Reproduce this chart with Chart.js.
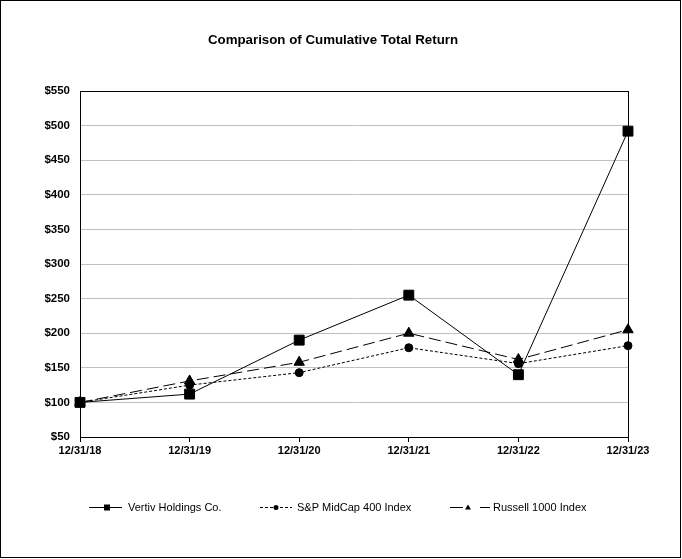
<!DOCTYPE html>
<html>
<head>
<meta charset="utf-8">
<script src="https://cdn.jsdelivr.net/npm/chart.js@4.4.0/dist/chart.umd.min.js"></script>
<style>
  html, body { margin: 0; padding: 0; background: #fff; }
  #wrap { width: 682px; height: 559px; }
</style>
</head>
<body>
<div id="wrap"><canvas id="grafico" width="682" height="559"></canvas></div>
<script>
// values
var years = ['12/31/18', '12/31/19', '12/31/20', '12/31/21', '12/31/22', '12/31/23'];
var vertiv = [100, 112, 190, 255, 140, 492];
var midcap = [100, 125, 143, 179, 156, 182];
var russell = [100, 131, 158, 200, 162, 205];
var seriesNames = ['Vertiv Holdings Co.', 'S&P MidCap 400 Index', 'Russell 1000 Index'];

var font = "'Liberation Sans', Arial, sans-serif";

// outer frame, plot border, title and the little legend at the bottom
var extras = {
  id: 'extras',
  afterDraw: function(chart) {
    var ctx = chart.ctx, a = chart.chartArea;
    ctx.save();
    ctx.strokeStyle = '#000';
    ctx.lineWidth = 1;
    ctx.setLineDash([]);
    ctx.strokeRect(0.5, 0.5, 680, 557);
    ctx.strokeRect(Math.round(a.left) + 0.5, Math.round(a.top) + 0.5,
      Math.round(a.right - a.left), Math.round(a.bottom - a.top));

    ctx.fillStyle = '#000';
    ctx.font = 'bold 13.3px ' + font;
    ctx.textAlign = 'center';
    ctx.textBaseline = 'middle';
    ctx.fillText('Comparison of Cumulative Total Return', 333, 40);

    var items = [
      { x0: 89, x1: 122, mx: 107, tx: 128, dash: [], style: 'rect' },
      { x0: 260, x1: 292, mx: 276, tx: 297, dash: [3, 2], style: 'circle' },
      { x0: 450, x1: 490, mx: 468, tx: 493, dash: [13, 17], style: 'triangle' }
    ];
    var y = 507.5;
    ctx.font = '11px ' + font;
    ctx.textAlign = 'left';
    items.forEach(function(it, i) {
      ctx.setLineDash(it.dash);
      ctx.beginPath();
      ctx.moveTo(it.x0, y);
      ctx.lineTo(it.x1, y);
      ctx.stroke();
      ctx.setLineDash([]);
      var cx = it.mx;
      ctx.beginPath();
      if (it.style === 'rect') {
        ctx.rect(cx - 3, y - 3, 6, 6);
      } else if (it.style === 'circle') {
        ctx.arc(cx, y, 2.5, 0, Math.PI * 2);
      } else {
        ctx.moveTo(cx, y - 3);
        ctx.lineTo(cx + 3, y + 2);
        ctx.lineTo(cx - 3, y + 2);
        ctx.closePath();
      }
      ctx.fill();
      ctx.fillText(seriesNames[i], it.tx, y);
    });
    ctx.restore();
  }
};

var ctx = document.getElementById('grafico').getContext('2d');
var chart = new Chart(ctx, {
  type: 'line',
  data: {
    labels: years,
    datasets: [{
      label: seriesNames[0],
      data: vertiv,
      borderColor: '#000',
      backgroundColor: '#000',
      borderWidth: 1,
      pointStyle: 'rect',
      pointRadius: 7,
      tension: 0
    }, {
      label: seriesNames[1],
      data: midcap,
      borderColor: '#000',
      backgroundColor: '#000',
      borderWidth: 1,
      borderDash: [3, 2],
      pointStyle: 'circle',
      pointRadius: 4,
      tension: 0
    }, {
      label: seriesNames[2],
      data: russell,
      borderColor: '#000',
      backgroundColor: '#000',
      borderWidth: 1,
      borderDash: [12, 5],
      pointStyle: 'triangle',
      pointRadius: 6,
      tension: 0
    }]
  },
  options: {
    responsive: false,
    animation: false,
    layout: { padding: { top: 91, right: 54, bottom: 0, left: 0 } },
    plugins: {
      legend: { display: false },
      tooltip: { enabled: false }
    },
    scales: {
      x: {
        offset: false,
        afterFit: function(s) { s.height = 122; },
        grid: { display: true, drawOnChartArea: false, drawTicks: true, tickLength: 5, color: '#000' },
        border: { color: '#000' },
        ticks: { color: '#000', font: { family: font, size: 11, weight: 'bold' }, padding: 2, maxRotation: 0 }
      },
      y: {
        min: 50,
        max: 550,
        afterFit: function(s) { s.width = 80; },
        grid: { color: '#c0c0c0', drawTicks: false },
        border: { color: '#000' },
        ticks: {
          stepSize: 50,
          color: '#000',
          padding: 10,
          font: { family: font, size: 11.5, weight: 'bold' },
          callback: function(v) { return '$' + v; }
        }
      }
    }
  },
  plugins: [extras]
});
</script>
</body>
</html>
